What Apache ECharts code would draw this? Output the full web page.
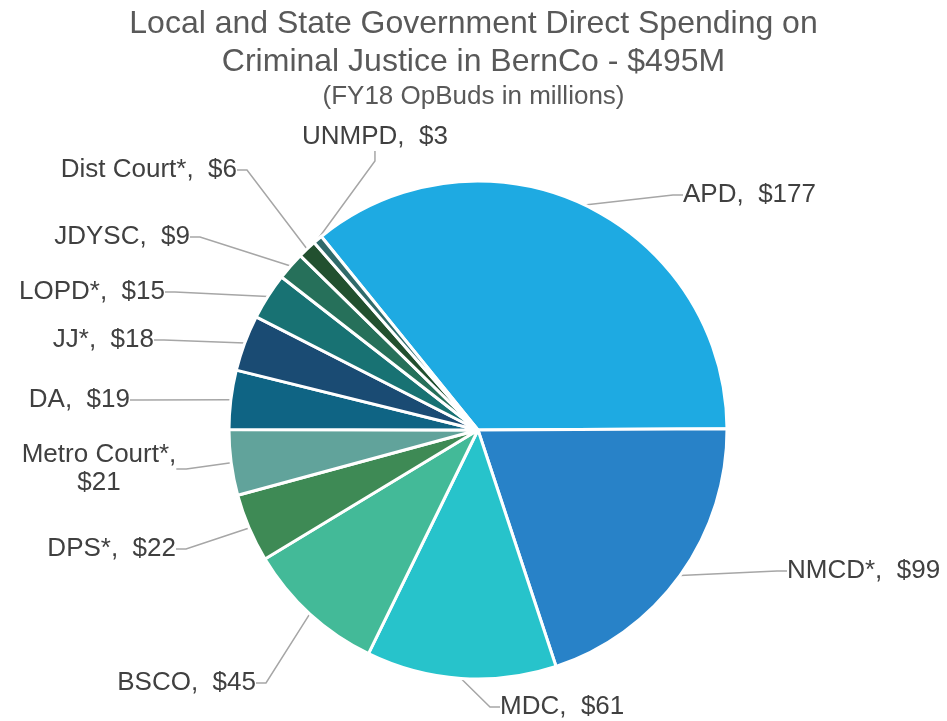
<!DOCTYPE html>
<html>
<head>
<meta charset="utf-8">
<script src="https://cdn.jsdelivr.net/npm/echarts@6/dist/echarts.min.js"></script>
<style>
  html, body { margin: 0; padding: 0; background: #fff; }
  #chart { width: 947px; height: 721px; }
</style>
</head>
<body>
<div id="chart"></div>
<script>
const agencies = ['APD', 'NMCD*', 'MDC', 'BSCO', 'DPS*', 'Metro Court*', 'DA', 'JJ*', 'LOPD*', 'JDYSC', 'Dist Court*', 'UNMPD']
const spending = [177, 99, 61, 45, 22, 21, 19, 18, 15, 9, 6, 3]
const sliceColors = ['#1eaae2', '#2882c8', '#27c3cb', '#43ba98', '#3e8a55', '#61a39b',
  '#0f6484', '#1a4b73', '#187273', '#26705a', '#22502f', '#2f6a6a']

// where each label sits (x, y, text align), like the hand-placed labels of the original
const labelSpots = [
  [683, 195, 'left'], [787, 571, 'left'], [500, 707, 'left'], [256, 683, 'right'],
  [176, 549, 'right'], [99, 469, 'center'], [130, 400, 'right'], [154, 340, 'right'],
  [165, 292, 'right'], [190, 237, 'right'], [237, 170, 'right'], [302, 137, 'left'],
]

const chart = echarts.init(document.getElementById('chart'))

const font = '"Liberation Sans", Arial, sans-serif'

const option = {
  title: {
    text: 'Local and State Government Direct Spending on\nCriminal Justice in BernCo - $495M',
    subtext: '(FY18 OpBuds in millions)',
    left: 'center',
    top: 0,
    itemGap: 1,
    textStyle: { fontFamily: font, fontSize: 32, fontWeight: 'normal', color: '#595959', lineHeight: 38 },
    subtextStyle: { fontFamily: font, fontSize: 26, color: '#595959', lineHeight: 30 },
  },
  series: [
    {
      type: 'pie',
      center: [478, 430],
      radius: 249,
      startAngle: 129,
      clockwise: true,
      animation: false,
      data: agencies.map((name, i) => ({
        name: name,
        value: spending[i],
        itemStyle: { color: sliceColors[i] },
      })),
      itemStyle: { borderColor: '#fff', borderWidth: 3 },
      label: {
        formatter: (p) => p.name === 'Metro Court*' ? p.name + ',\n$' + p.value : p.name + ',  $' + p.value,
        fontFamily: font,
        fontSize: 26,
        color: '#404040',
        lineHeight: 28,
      },
      labelLine: {
        length: 12,
        length2: 10,
        lineStyle: { color: '#a6a6a6', width: 1.5 },
      },
      labelLayout: (params) => {
        const spot = labelSpots[params.dataIndex]
        return { x: spot[0], y: spot[1], align: spot[2], verticalAlign: 'middle' }
      },
    },
  ],
}

chart.setOption(option)
</script>
</body>
</html>
